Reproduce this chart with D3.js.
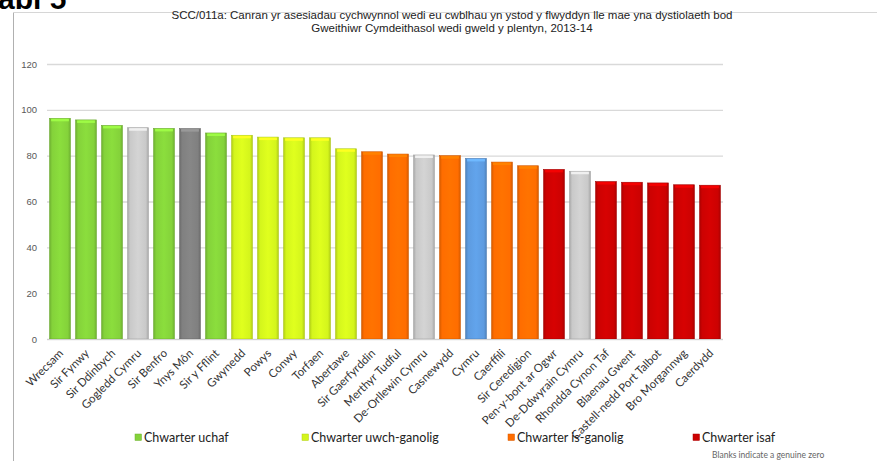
<!DOCTYPE html>
<html><head><meta charset="utf-8">
<script src="https://cdn.jsdelivr.net/npm/d3@7"></script>
<style>body{margin:0;background:#fff;}svg{display:block;}</style>
</head><body>
<svg id="c" width="877" height="461"></svg>
<script>
const categories = ["Wrecsam","Sir Fynwy","Sir Ddinbych","Gogledd Cymru","Sir Benfro","Ynys Môn","Sir y Fflint","Gwynedd","Powys","Conwy","Torfaen","Abertawe","Sir Gaerfyrddin","Merthyr Tudful","De-Orllewin Cymru","Casnewydd","Cymru","Caerffili","Sir Ceredigion","Pen-y-bont ar Ogwr","De-Ddwyrain Cymru","Rhondda Cynon Taf","Blaenau Gwent","Castell-nedd Port Talbot","Bro Morgannwg","Caerdydd"];
const values = [96.3,95.6,93.2,92.2,91.9,91.8,89.9,88.9,88.1,87.8,87.8,83.0,81.7,80.7,80.3,80.0,78.8,77.2,75.6,74.0,73.2,68.7,68.4,68.1,67.3,67.1];
const groups = ["top","top","top","region","top","dark","top","upper","upper","upper","upper","upper","lower","lower","region","lower","wales","lower","lower","bottom","region","bottom","bottom","bottom","bottom","bottom"];
const yTicks = [0,20,40,60,80,100,120];
const legendLabels = ["Chwarter uchaf","Chwarter uwch-ganolig","Chwarter is-ganolig","Chwarter isaf"];
const legendKeys = ["top","upper","lower","bottom"];
const titleLines = ["SCC/011a: Canran yr asesiadau cychwynnol wedi eu cwblhau yn ystod y flwyddyn lle mae yna dystiolaeth bod","Gweithiwr Cymdeithasol wedi gweld y plentyn, 2013-14"];

const colors = {top:"#84d23a",upper:"#d4f51c",lower:"#ff6d00",bottom:"#cc0202",region:"#c9c9c9",dark:"#808080",wales:"#5d9be0"};

const svg = d3.select("#c");
const m = {l:47, r:723, t:64, b:339};

// frame
svg.append("line").attr("x1",13.5).attr("x2",13.5).attr("y1",12).attr("y2",461).attr("stroke","#b0b0b0");
svg.append("line").attr("x1",13).attr("x2",877).attr("y1",12.5).attr("y2",12.5).attr("stroke","#d6d6d6");

// heading fragment
svg.append("text").attr("x",-18).attr("y",9).attr("font-family","Liberation Sans, Arial").attr("font-weight","bold").attr("font-size",30).attr("fill","#000").text("Tabl 5");

// title
svg.append("g").selectAll("text").data(titleLines).join("text")
  .attr("x",452).attr("y",(d,i)=>19+i*13).attr("text-anchor","middle")
  .attr("font-family","Liberation Sans, Arial").attr("font-size",11.5).attr("fill","#222").text(d=>d);

const x = d3.scaleBand().domain(categories).range([m.l,m.r]).paddingInner(0.2).paddingOuter(0.1);
const y = d3.scaleLinear().domain([0,120]).range([m.b,m.t]);

// gradients
const defs = svg.append("defs");
Object.entries(colors).forEach(([k,c])=>{
  const g = defs.append("linearGradient").attr("id","g-"+k).attr("x1","0").attr("x2","1").attr("y1","0").attr("y2","0");
  const dk = d3.color(c).darker(0.5), lt = d3.color(c).brighter(0.15);
  g.append("stop").attr("offset","0").attr("stop-color",dk);
  g.append("stop").attr("offset","0.12").attr("stop-color",c);
  g.append("stop").attr("offset","0.5").attr("stop-color",lt);
  g.append("stop").attr("offset","0.88").attr("stop-color",c);
  g.append("stop").attr("offset","1").attr("stop-color",dk);
});

// grid
const yAxis = d3.axisLeft(y).tickValues(yTicks).tickSize(-(m.r-m.l)).tickPadding(10);
const ga = svg.append("g").attr("transform",`translate(${m.l},0)`).call(yAxis);
ga.select(".domain").remove();
ga.selectAll(".tick line").attr("stroke","#d9d9d9").attr("stroke-width",1.3);
ga.selectAll(".tick text").attr("font-family","Liberation Sans, Arial").attr("font-size",9.5).attr("fill","#595959");

// bars
const idx = categories.map((c,i)=>i);
const bars = svg.append("g").selectAll("g").data(idx).join("g");
bars.append("rect")
  .attr("x",i=>x(categories[i])).attr("width",x.bandwidth())
  .attr("y",i=>y(values[i])).attr("height",i=>y(0)-y(values[i]))
  .attr("fill",i=>`url(#g-${groups[i]})`)
  .attr("stroke",i=>d3.color(colors[groups[i]]).darker(0.6)).attr("stroke-width",0.6);
bars.append("rect")
  .attr("x",i=>x(categories[i])+1.5).attr("width",x.bandwidth()-3)
  .attr("y",i=>y(values[i])+0.5).attr("height",2.5)
  .attr("fill",i=>d3.color(colors[groups[i]]).brighter(0.5));

// x axis baseline
svg.append("line").attr("x1",m.l).attr("x2",m.r).attr("y1",m.b+0.5).attr("y2",m.b+0.5).attr("stroke","#d0d0d0");

// x labels
const xAxis = d3.axisBottom(x).tickSize(0).tickPadding(0);
const gx = svg.append("g").attr("transform",`translate(0,${m.b})`).call(xAxis);
gx.select(".domain").remove();
gx.selectAll(".tick text")
  .attr("font-family","Lato, 'Open Sans', sans-serif").attr("font-size",11.5).attr("fill","#333")
  .attr("text-anchor","end").attr("dy",0).attr("y",0)
  .attr("transform","translate(4,15) rotate(-45)");

// legend
const legX = [135,302,508,693];
const lg = svg.append("g").selectAll("g").data(legendKeys).join("g")
  .attr("transform",(d,i)=>`translate(${legX[i]},434)`);
lg.append("rect").attr("width",6.5).attr("height",6.5).attr("fill",d=>colors[d]).attr("stroke",d=>d3.color(colors[d]).darker(0.5)).attr("stroke-width",0.5);
lg.append("text").attr("x",9).attr("y",7.5).attr("font-family","Lato, 'Open Sans', sans-serif").attr("font-size",12.5).attr("fill","#222")
  .text((d,i)=>legendLabels[i]);

svg.append("text").attr("x",712).attr("y",458).attr("font-family","Lato, 'Open Sans', sans-serif").attr("font-size",8.5).attr("fill","#666").text("Blanks indicate a genuine zero");
</script>
</body></html>
